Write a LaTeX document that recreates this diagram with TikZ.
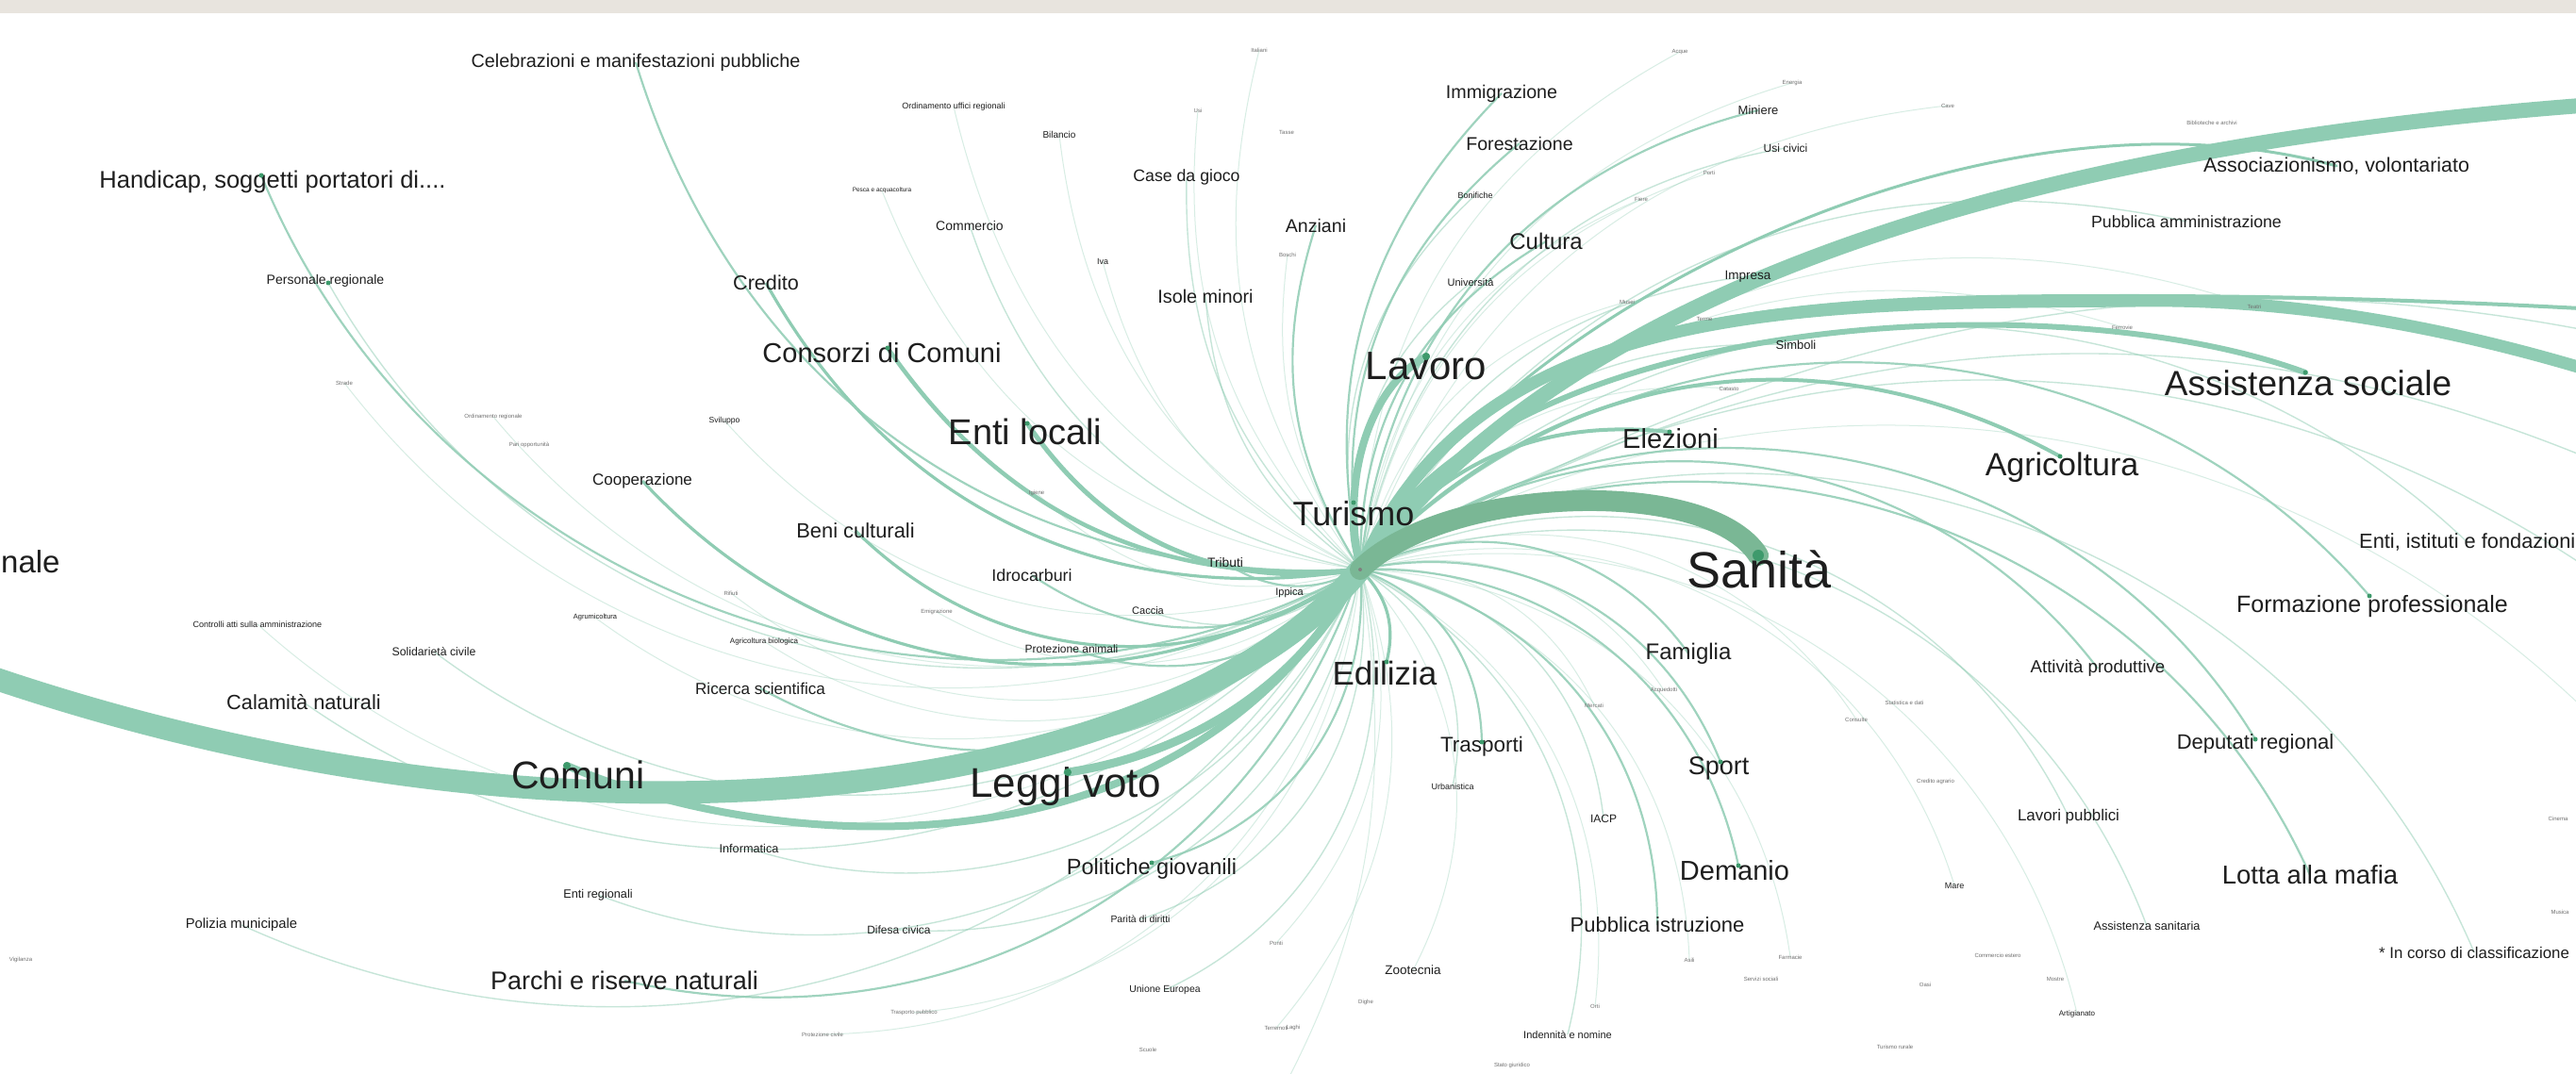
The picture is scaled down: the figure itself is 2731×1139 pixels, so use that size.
\documentclass[tikz,border=0pt]{standalone}
\usepackage{fontspec}
\setmainfont{Liberation Sans}
\usetikzlibrary{calc}
\pgfdeclarelayer{bg}
\pgfdeclarelayer{edges}
\pgfsetlayers{bg,edges,main}
\definecolor{edgeC}{HTML}{8FCCB3}
\definecolor{edgeD}{HTML}{7AB795}
\definecolor{dotC}{HTML}{3E9A6C}
\definecolor{txtC}{HTML}{1E1E1E}
\definecolor{tinyC}{HTML}{707070}
\definecolor{bandC}{HTML}{E8E4DE}
\begin{document}
\begin{tikzpicture}[x=1pt,y=-1pt,
 lab/.style={font=\fontsize{#1}{#1}\selectfont, text=txtC, inner sep=0pt},
 tinylab/.style={font=\fontsize{6}{6}\selectfont, text=tinyC, inner sep=0pt},
 eb/.style={draw=edgeC, line width=#1, line cap=round},
 e3/.style={draw=edgeC, line width=3.2},
 e2/.style={draw=edgeC, line width=2.2, opacity=.85},
 e1/.style={draw=edgeC, line width=1.4, opacity=.5},
 e0/.style={draw=edgeC, line width=1, opacity=.35},
 ndot/.style={fill=dotC},
 bendto/.style={to path={.. controls ($(\tikztostart)!0.3915!#1:(\tikztotarget)$) and ($(\tikztotarget)!0.3915!-#1:(\tikztostart)$) .. (\tikztotarget)}}]
\useasboundingbox (0,0) rectangle (2731,1139);
\begin{pgfonlayer}{bg}
\fill[white] (0,0) rectangle (2731,1139);
\fill[bandC] (0,0) rectangle (2731,14);
\end{pgfonlayer}

% hub and coordinates
\coordinate (hub) at (1442,604);
\coordinate (offL) at (-348,575);
\coordinate (offB) at (1324,1219);
\coordinate (offTR) at (3135,96);
\coordinate (offR1) at (3048,505);
\coordinate (offR2) at (3048,348);
\coordinate (offR3) at (3135,462);
\coordinate (offR4) at (2961,592);
\coordinate (offR5) at (2926,749);
\coordinate (offR6) at (2874,906);
\coordinate (d-sanita) at (1864,589);
\coordinate (d-comuni) at (601,812);
\coordinate (d-leggi) at (1132,819);
\coordinate (d-lavoro) at (1512,378);
\coordinate (d-turismo) at (1435,533);
\coordinate (d-entilocali) at (1089,449);
\coordinate (d-consorzi) at (941,369);
\coordinate (d-edilizia) at (1470,702);
\coordinate (d-agricoltura) at (2184,484);
\coordinate (d-assist) at (2444,395);
\coordinate (d-elezioni) at (1770,458);
\coordinate (d-politiche) at (1221,915);
\coordinate (d-sport) at (1824,808);
\coordinate (d-demanio) at (1843,918);
\coordinate (d-trasporti) at (1571,787);
\coordinate (d-deputati) at (2391,784);
\coordinate (d-formazione) at (2512,632);
\coordinate (d-handicap) at (277,186);
\coordinate (d-personale) at (348,300);

% labels
\node[lab=54] (sanita) at (1865,604) {Sanità};
\node[lab=41] (comuni) at (613,822) {Comuni};
\node[lab=44] (leggi) at (1130,834) {Leggi voto};
\node[lab=42] (lavoro) at (1512,388) {Lavoro};
\node[lab=38] (entilocali) at (1087,458) {Enti locali};
\node[lab=37] (assistenza) at (2447,406) {Assistenza sociale};
\node[lab=36] (turismo) at (1435,545) {Turismo};
\node[lab=33, anchor=west] (nale) at (1,596) {nale};
\node[lab=35] (edilizia) at (1468,714) {Edilizia};
\node[lab=34] (agricoltura) at (2186,496) {Agricoltura};
\node[lab=29] (consorzi) at (935,374) {Consorzi di Comuni};
\node[lab=27.5] (lotta) at (2449,928) {Lotta alla mafia};
\node[lab=29] (demanio) at (1839,923) {Demanio};
\node[lab=27] (sport) at (1822,815) {Sport};
\node[lab=29] (elezioni) at (1771,465) {Elezioni};
\node[lab=24] (famiglia) at (1790,693) {Famiglia};
\node[lab=22.5] (trasporti) at (1571,792) {Trasporti};
\node[lab=24] (cultura) at (1639,256) {Cultura};
\node[lab=27] (parchi) at (662,1040) {Parchi e riserve naturali};
\node[lab=23.5] (politiche) at (1221,921) {Politiche giovanili};
\node[lab=22] (pubistr) at (1757,981) {Pubblica istruzione};
\node[lab=25] (formazione) at (2515,643) {Formazione professionale};
\node[lab=21.8, anchor=west] (entiist) at (2501,575) {Enti, istituti e fondazioni};
\node[lab=22] (deputati) at (2391,789) {Deputati regional};
\node[lab=21.4] (associaz) at (2477,176) {Associazionismo, volontariato};
\node[lab=17.7] (pubamm) at (2318,235) {Pubblica amministrazione};
\node[lab=21.8] (calamita) at (322,745) {Calamità naturali};
\node[lab=25.5] (handicap) at (289,193) {Handicap, soggetti portatori di....};
\node[lab=19.8] (celebraz) at (674,66) {Celebrazioni e manifestazioni pubbliche};
\node[lab=19.7] (immigr) at (1592,99) {Immigrazione};
\node[lab=19.6] (forest) at (1611,152) {Forestazione};
\node[lab=17.7] (casegioco) at (1258,188) {Case da gioco};
\node[lab=19.6] (anziani) at (1395,239) {Anziani};
\node[lab=19.8] (isole) at (1278,314) {Isole minori};
\node[lab=21.6] (credito) at (812,300) {Credito};
\node[lab=17] (cooperaz) at (681,510) {Cooperazione};
\node[lab=21.9] (beni) at (907,563) {Beni culturali};
\node[lab=17.8] (idrocarb) at (1094,610) {Idrocarburi};
\node[lab=13.8] (tributi) at (1299,597) {Tributi};
\node[lab=17.1] (ricerca) at (806,730) {Ricerca scientifica};
\node[lab=12] (protez) at (1136,688) {Protezione animali};
\node[lab=18.6] (attivita) at (2224,709) {Attività produttive};
\node[lab=16.9] (lavoripub) at (2193,866) {Lavori pubblici};
\node[lab=12.7] (assistsan) at (2276,982) {Assistenza sanitaria};
\node[lab=16.8, anchor=west] (incorso) at (2522,1010) {* In corso di classificazione};
\node[lab=12.7] (informatica) at (794,900) {Informatica};
\node[lab=12.7] (entireg) at (634,949) {Enti regionali};
\node[lab=14.8] (polizia) at (256,981) {Polizia municipale};
\node[lab=12] (difesa) at (953,986) {Difesa civica};
\node[lab=10.4] (parita) at (1209,975) {Parità di diritti};
\node[lab=10.4] (unione) at (1235,1050) {Unione Europea};
\node[lab=13.5] (zootecnia) at (1498,1029) {Zootecnia};
\node[lab=9] (urbanistica) at (1540,834) {Urbanistica};
\node[lab=12] (iacp) at (1700,868) {IACP};
\node[lab=14] (personale) at (345,298) {Personale regionale};
\node[lab=14] (commercio) at (1028,239) {Commercio};
\node[lab=10] (bilancio) at (1123,143) {Bilancio};
\node[lab=12.3] (solidar) at (460,691) {Solidarietà civile};
\node[lab=13] (miniere) at (1864,117) {Miniere};
\node[lab=12] (usicivici) at (1893,157) {Usi civici};
\node[lab=9] (bonifiche) at (1564,207) {Bonifiche};
\node[lab=11] (universita) at (1559,300) {Università};
\node[lab=13.5] (impresa) at (1853,293) {Impresa};
\node[lab=13] (simboli) at (1904,366) {Simboli};
\node[lab=7.5] (agrumi) at (631,655) {Agrumicoltura};
\node[lab=9] (controlli) at (273,662) {Controlli atti sulla amministrazione};
\node[lab=8] (agribio) at (810,680) {Agricoltura biologica};
\node[lab=8.6] (sviluppo) at (768,446) {Sviluppo};
\node[lab=11] (caccia) at (1217,648) {Caccia};
\node[lab=11] (ippica) at (1367,629) {Ippica};
\node[lab=9] (ordinamento) at (1011,113) {Ordinamento uffici regionali};
\node[lab=6.5] (pesca) at (935,202) {Pesca e acquacoltura};
\node[lab=9] (iva) at (1169,277) {Iva};
\node[lab=11] (indennita) at (1662,1097) {Indennità e nomine};
\node[lab=9] (mare) at (2072,939) {Mare};
\node[lab=8] (artigianato) at (2202,1075) {Artigianato};

% tiny labels
\node[tinylab] (t1) at (1335,53) {Italiani};
\node[tinylab] (t2) at (1270,117) {Usi};
\node[tinylab] (t3) at (1364,140) {Tasse};
\node[tinylab] (t4) at (1781,55) {Acque};
\node[tinylab] (t5) at (1900,88) {Energia};
\node[tinylab] (t6) at (1812,183) {Porti};
\node[tinylab] (t7) at (1740,211) {Fiere};
\node[tinylab] (t8) at (1725,320) {Musei};
\node[tinylab] (t9) at (1807,338) {Terme};
\node[tinylab] (t10) at (1365,270) {Boschi};
\node[tinylab] (t11) at (2065,112) {Cave};
\node[tinylab] (t12) at (2345,130) {Biblioteche e archivi};
\node[tinylab] (t13) at (2390,325) {Teatri};
\node[tinylab] (t14) at (2250,347) {Ferrovie};
\node[tinylab] (t15) at (365,406) {Strade};
\node[tinylab] (t16) at (523,442) {Ordinamento regionale};
\node[tinylab] (t17) at (561,472) {Pari opportunità};
\node[tinylab] (t18) at (1099,523) {Igiene};
\node[tinylab] (t19) at (775,629) {Rifiuti};
\node[tinylab] (t20) at (993,649) {Emigrazione};
\node[tinylab] (t21) at (1833,412) {Catasto};
\node[tinylab] (t22) at (1764,732) {Acquedotti};
\node[tinylab] (t23) at (1690,748) {Mercati};
\node[tinylab] (t24) at (2019,745) {Statistica e dati};
\node[tinylab] (t25) at (1968,763) {Consulte};
\node[tinylab] (t26) at (22,1018) {Vigilanza};
\node[tinylab] (t27) at (969,1074) {Trasporto pubblico};
\node[tinylab] (t28) at (872,1097) {Protezione civile};
\node[tinylab] (t29) at (1217,1113) {Scuole};
\node[tinylab] (t30) at (1353,1090) {Terremoti};
\node[tinylab] (t31) at (1353,1000) {Ponti};
\node[tinylab] (t32) at (1448,1063) {Dighe};
\node[tinylab] (t33) at (1371,1090) {Laghi};
\node[tinylab] (t34) at (1691,1067) {Orti};
\node[tinylab] (t35) at (1603,1130) {Stato giuridico};
\node[tinylab] (t36) at (1791,1018) {Asili};
\node[tinylab] (t37) at (1898,1015) {Farmacie};
\node[tinylab] (t38) at (1867,1038) {Servizi sociali};
\node[tinylab] (t39) at (2009,1110) {Turismo rurale};
\node[tinylab] (t40) at (2041,1044) {Oasi};
\node[tinylab] (t41) at (2052,829) {Credito agrario};
\node[tinylab] (t42) at (2118,1013) {Commercio estero};
\node[tinylab] (t43) at (2179,1038) {Mostre};
\node[tinylab] (t44) at (2712,868) {Cinema};
\node[tinylab] (t45) at (2714,967) {Musica};

\begin{pgfonlayer}{edges}
\begin{scope}
\clip (0,0) rectangle (2731,1139);
% faint edges
\foreach \t/\b in {t1/25,t2/25,t4/30,t5/32,t6/30,t7/30,t8/30,t10/20,t11/32,t13/35,t14/35,t15/42,t16/40,t18/30,t19/40,t20/35,t21/30,t22/35,t23/35,t25/40,t27/40,t28/40,t30/30,t31/30,t34/35,t36/38,t37/40,controlli/45,agrumi/40,agribio/40,sviluppo/35,bilancio/28,ordinamento/28,pesca/30,iva/25,mare/45,artigianato/45,zootecnia/35}
  {\draw[e0] (hub) to[bendto=\b] (\t.center);}
\draw[e0] (hub) to[bendto=20] (offB);
\draw[e0] (hub) to[bendto=42] (offR6);
% thin edges
\foreach \t/\b in {calamita/42,solidar/42,informatica/42,entireg/44,polizia/42,difesa/42,parita/40,unione/40,urbanistica/35,iacp/38,indennita/38,lavoripub/45,assistsan/45,incorso/48,entiist/45,pubamm/35,simboli/30,impresa/30,usicivici/35,universita/30,bonifiche/30,isole/25,casegioco/25,commercio/30,caccia/30,ippica/25}
  {\draw[e1] (hub) to[bendto=\b] (\t.center);}
\draw[e1] (hub) to[bendto=45] (d-personale);
\draw[e1] (hub) to[bendto=25] (offR3);
\draw[e1] (hub) to[bendto=30] (offR4);
\draw[e1] (hub) to[bendto=38] (offR5);
% light edges
\foreach \t/\b in {celebraz/38,idrocarb/35,tributi/30,ricerca/40,protez/35,parchi/42,pubistr/40,famiglia/40,attivita/45,lotta/48,miniere/35,cultura/30,forest/30,immigr/28,anziani/25}
  {\draw[e2] (hub) to[bendto=\b] (\t.center);}
\draw[e2] (hub) to[bendto=48] (d-handicap);
\draw[e2] (hub) to[bendto=40] (d-politiche);
\draw[e2] (hub) to[bendto=34] (d-trasporti);
\draw[e2] (hub) to[bendto=40] (d-sport);
\draw[e2] (hub) to[bendto=40] (d-demanio);
\draw[e2] (hub) to[bendto=48] (d-deputati);
\draw[e2] (hub) to[bendto=48] (d-formazione);
\foreach \t/\b in {credito/35,cooperaz/40,beni/40}
  {\draw[e3] (hub) to[bendto=\b] (\t.center);}
\draw[e3] (hub) to[bendto=30] (d-edilizia);
% medium edges
\draw[eb=4] (hub) to[bendto=38] (d-agricoltura);
\draw[eb=4] (hub) to[bendto=30] (d-elezioni);
\draw[eb=4.5] (hub) to[bendto=30] (d-consorzi);
\draw[eb=5] (hub) to[bendto=32] (d-entilocali);
\draw[eb=3] (hub) to[bendto=15] (d-turismo);
\draw[eb=8] (hub) .. controls (1420,505) and (1454,409) .. (d-lavoro);
\draw[eb=3] (hub) .. controls (1568,348) and (2090,70) .. (associaz.center);
\draw[eb=6] (hub) .. controls (1568,331) and (2177,296) .. (d-assist);
\draw[eb=4] (hub) .. controls (1568,314) and (1916,314) .. (2264,314) .. controls (2526,314) and (2787,327) .. (offR2);
% heavy edges
\draw[eb=13] (hub) .. controls (1568,314) and (1916,322) .. (2264,319) .. controls (2526,315) and (2787,392) .. (offR1);
\draw[eb=16] (hub) .. controls (1568,435) and (1916,105) .. (offTR);
\draw[eb=24] (hub) .. controls (1219,871) and (435,975) .. (offL);
\draw[eb=8] (hub) .. controls (1254,941) and (819,906) .. (d-comuni);
\draw[eb=9] (hub) .. controls (1376,732) and (1254,801) .. (d-leggi);
\draw[draw=edgeD, line width=22, line cap=round] (hub) .. controls (1533,514) and (1811,505) .. (d-sanita);
\end{scope}
\end{pgfonlayer}

% node dots
\fill[ndot] (d-sanita) circle (6);
\foreach \d in {d-comuni,d-leggi,d-lavoro}
  {\fill[ndot] (\d) circle (4);}
\foreach \d in {d-turismo,d-entilocali,d-consorzi,d-edilizia,d-agricoltura,d-assist,d-elezioni,d-politiche,d-sport,d-demanio,d-trasporti,d-deputati,d-formazione,d-handicap,d-personale}
  {\fill[ndot] (\d) circle (2.5);}
\fill[gray] (hub) circle (2);
\end{tikzpicture}
\end{document}
